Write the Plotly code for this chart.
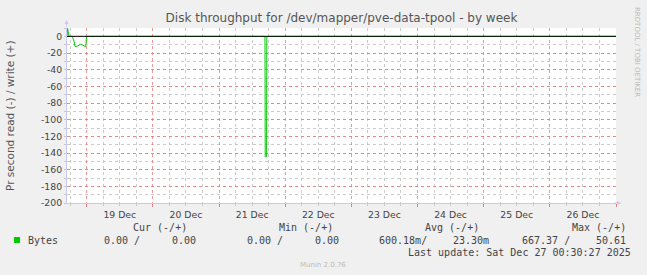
import plotly.graph_objects as go

# ---- data ----
times = [
    "2025-12-18 16:50", "2025-12-18 17:05", "2025-12-18 17:35", "2025-12-18 18:30",
    "2025-12-18 19:15", "2025-12-18 19:45", "2025-12-18 20:15", "2025-12-18 21:00",
    "2025-12-18 21:45", "2025-12-18 22:30", "2025-12-18 23:15", "2025-12-18 23:35",
    "2025-12-18 23:45", "2025-12-18 23:55",
    "2025-12-21 16:40", "2025-12-21 16:45", "2025-12-21 17:15", "2025-12-21 17:20",
    "2025-12-27 00:30",
]
bytes_values = [
    0, 9.6, 0, 0,
    -3.5, -12.0, -12.4, -11.0,
    -9.6, -10.4, -12.4, -12.4,
    -9.6, 0,
    0, -144.5, -144.5, 0,
    0,
]
ytick_vals = [0, -20, -40, -60, -80, -100, -120, -140, -160, -180, -200]
ytick_text = ["0", "-20", "-40", "-60", "-80", "-100", "-120", "-140", "-160", "-180", "-200"]

title_text = "Disk throughput for /dev/mapper/pve-data-tpool - by week"
ytitle = "Pr second read (-) / write (+)"
legend_headers = ["Cur (-/+)", "Min (-/+)", "Avg (-/+)", "Max (-/+)"]
legend_label = "Bytes"
legend_values = ["0.00 /", "0.00", "0.00 /", "0.00", "600.18m/", "23.30m", "667.37 /", "50.61"]
last_update = "Last update: Sat Dec 27 00:30:27 2025"
watermark = "RRDTOOL / TOBI OETIKER"
footer = "Munin 2.0.76"

# ---- layout geometry ----
W, H = 647, 275
L, R, T, B = 67, 31, 28, 72
pw, ph = W - L - R, H - T - B


def px(X):
    return (X - L) / pw


def py(Y):
    return (H - B - Y) / ph


SANS = "DejaVu Sans"
MONO = "DejaVu Sans Mono"
TXT = "#444444"
GREEN = "#00CC00"
AXIS = "#C8C8F4"
REDGRID = "rgba(225,120,120,0.75)"
GRAYGRID = "rgba(190,190,190,0.8)"
DASH = "dot"

fig = go.Figure()
fig.add_trace(go.Scatter(
    x=times, y=bytes_values, mode="lines",
    line=dict(color=GREEN, width=1), hoverinfo="skip", showlegend=False,
))

fig.update_layout(
    width=W, height=H, autosize=False,
    margin=dict(l=L, r=R, t=T, b=B, pad=0),
    paper_bgcolor="#F0F0F0", plot_bgcolor="#FFFFFF",
    showlegend=False,
    title=dict(text=title_text, x=0.5, xanchor="center", xref="paper",
               y=(H - 18) / H, yanchor="middle", yref="container",
               font=dict(family=SANS, size=12, color="#555555")),
    font=dict(family=SANS, size=9.3, color=TXT),
)

fig.update_xaxes(
    type="date",
    range=["2025-12-18 16:51", "2025-12-27 00:00"],
    tick0="2025-12-19", dtick=86400000,
    ticklabelmode="period", tickformat="%d %b",
    showgrid=True, gridcolor=REDGRID, griddash=DASH, gridwidth=1,
    ticks="outside", ticklen=3, tickcolor="#E08080",
    tickfont=dict(family=SANS, size=9.3, color=TXT),
    showline=True, linecolor=AXIS, linewidth=1,
    zeroline=False,
    minor=dict(dtick=21600000, showgrid=True, gridcolor=GRAYGRID, griddash=DASH,
               ticks="outside", ticklen=2, tickcolor="#C8C8C8"),
)

fig.update_yaxes(
    range=[-200, 10],
    tickmode="array", tickvals=ytick_vals, ticktext=ytick_text,
    showgrid=True, gridcolor=REDGRID, griddash=DASH, gridwidth=1,
    ticks="outside", ticklen=2, tickcolor="#C8C8C8",
    tickfont=dict(family=SANS, size=9.3, color=TXT),
    showline=True, linecolor=AXIS, linewidth=1,
    zeroline=False,
    minor=dict(tickmode="linear", tick0=0, dtick=10, showgrid=True,
               gridcolor=GRAYGRID, griddash=DASH, ticks="outside", ticklen=2,
               tickcolor="#C8C8C8"),
)

shapes = [
    # zero rule drawn over the series (as rrdtool does)
    dict(type="line", xref="paper", yref="y", x0=0, x1=1, y0=0, y1=0,
         line=dict(color="#000000", width=1), layer="above"),
    # legend swatch
    dict(type="rect", xref="paper", yref="paper",
         x0=px(14), x1=px(20), y0=py(243), y1=py(237),
         fillcolor=GREEN, line=dict(width=0)),
]
fig.update_layout(shapes=shapes)

ann = []
# axis arrows
ann.append(dict(xref="paper", yref="paper", x=px(66.5), y=py(20), ax=0, ay=8,
                showarrow=True, arrowhead=2, arrowsize=0.8, arrowwidth=1,
                arrowcolor=AXIS, text=""))
ann.append(dict(xref="paper", yref="paper", x=px(621), y=py(203), ax=-8, ay=0,
                showarrow=True, arrowhead=2, arrowsize=0.8, arrowwidth=1,
                arrowcolor=AXIS, text=""))
# y-axis title
ann.append(dict(xref="paper", yref="paper", x=px(10), y=py(116), text=ytitle,
                textangle=-90, showarrow=False, xanchor="center", yanchor="middle",
                font=dict(family=SANS, size=10.5, color="#555555")))
# watermark
ann.append(dict(xref="paper", yref="paper", x=px(637), y=py(52), text=watermark,
                textangle=90, showarrow=False, xanchor="center", yanchor="middle",
                font=dict(family=SANS, size=7, color="#BBBBBB")))
# legend headers
for txt, xr in zip(legend_headers, [189, 335, 481, 628]):
    ann.append(dict(xref="paper", yref="paper", x=px(xr), y=py(227.5), text=txt,
                    showarrow=False, xanchor="right", yanchor="middle",
                    font=dict(family=MONO, size=10, color=TXT)))
ann.append(dict(xref="paper", yref="paper", x=px(26), y=py(240), text=legend_label,
                showarrow=False, xanchor="left", yanchor="middle",
                font=dict(family=MONO, size=10, color=TXT)))
for txt, xr in zip(legend_values, [142, 198, 285, 341, 429, 491, 572, 628]):
    ann.append(dict(xref="paper", yref="paper", x=px(xr), y=py(240), text=txt,
                    showarrow=False, xanchor="right", yanchor="middle",
                    font=dict(family=MONO, size=10, color=TXT)))
ann.append(dict(xref="paper", yref="paper", x=px(633), y=py(252.5), text=last_update,
                showarrow=False, xanchor="right", yanchor="middle",
                font=dict(family=MONO, size=10, color=TXT)))
ann.append(dict(xref="paper", yref="paper", x=px(323), y=py(265), text=footer,
                showarrow=False, xanchor="center", yanchor="middle",
                font=dict(family=SANS, size=7, color="#BBBBBB")))
fig.update_layout(annotations=ann)

fig.write_html("out.html")
